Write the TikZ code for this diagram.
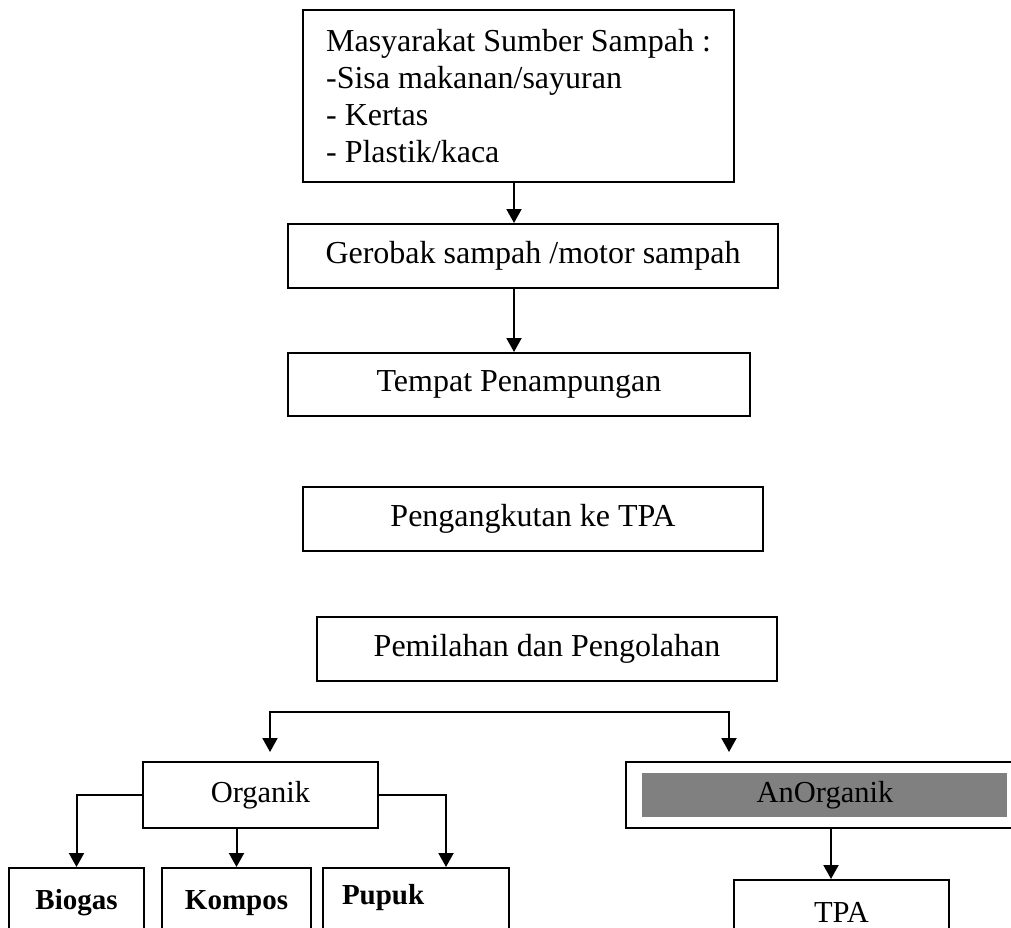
\documentclass[tikz,border=0pt]{standalone}
\usepackage{fontspec}
\setmainfont{Liberation Serif}
\usepackage{tikz}
\usetikzlibrary{arrows.meta}

\tikzset{
  kotak/.style={draw,rectangle,line width=2pt,inner sep=0pt,font=\fontsize{32}{37}\selectfont},
  kotakkecil/.style={kotak,font=\fontsize{30.5}{35}\selectfont},
  kotaktebal/.style={kotak,font=\fontsize{29}{34}\selectfont\bfseries},
  panah/.style={-{Triangle[width=15pt,length=14pt]},line width=2pt}
}

\begin{document}
\begin{tikzpicture}[x=1pt,y=-1pt]
  \useasboundingbox (0,0) rectangle (1011,928);
  \clip (0,0) rectangle (1011,928);

  \node[kotak,minimum width=431pt,minimum height=172pt,align=left] (sumber) at (518.5,96)
    {Masyarakat Sumber Sampah :\\-Sisa makanan/sayuran\\- Kertas\\- Plastik/kaca};
  \node[kotak,minimum width=490pt,minimum height=64pt] (gerobak) at (533,256) {Gerobak sampah /motor sampah};
  \node[kotak,minimum width=462pt,minimum height=63pt] (tempat)  at (519,384.5) {Tempat Penampungan};
  \node[kotak,minimum width=460pt,minimum height=64pt] (angkut)  at (533,519) {Pengangkutan ke TPA};
  \node[kotak,minimum width=460pt,minimum height=64pt] (pilah)   at (547,649) {Pemilahan dan Pengolahan};

  \node[kotakkecil,minimum width=235pt,minimum height=66pt] (organik) at (260.5,795) {Organik};
  \node[kotakkecil,minimum width=398pt,minimum height=66pt,
        path picture={\fill[gray] ([xshift=16pt,yshift=-11pt]path picture bounding box.north west)
          rectangle ([xshift=-17pt,yshift=11pt]path picture bounding box.south east);}]
        (anorganik) at (825,795) {AnOrganik};

  \node[kotaktebal,minimum width=135pt,minimum height=70pt] (biogas) at (76.5,903) {Biogas};
  \node[kotaktebal,minimum width=149pt,minimum height=70pt] (kompos) at (236.5,903) {Kompos};
  \node[kotaktebal,minimum height=70pt,text width=148pt,inner xsep=19pt,align=left,text depth=18pt]
        (pupuk) at (416,903) {Pupuk};
  \node[kotakkecil,minimum width=215pt,minimum height=64pt] (tpa) at (841.5,912) {TPA};

  % alur utama
  \draw[panah] ([xshift=-4.5pt]sumber.south) -- ([xshift=-19pt]gerobak.north);
  \draw[panah] ([xshift=-19pt]gerobak.south) -- ([xshift=-5pt]tempat.north);

  % cabang organik / anorganik
  \coordinate (cabang) at (499.5,712);
  \coordinate (keorganik) at (270,752);
  \coordinate (keanorganik) at (729,752);
  \draw[panah] (cabang) -| (keorganik);
  \draw[panah] (cabang) -| (keanorganik);

  \draw[panah] (organik.west) -| (biogas.north);
  \draw[panah] (organik.south -| kompos.north) -- (kompos.north);
  \draw[panah] (organik.east) -| ([xshift=30pt]pupuk.north);
  \draw[panah] ([xshift=6pt]anorganik.south) -- ([xshift=-10.5pt]tpa.north);
\end{tikzpicture}
\end{document}
